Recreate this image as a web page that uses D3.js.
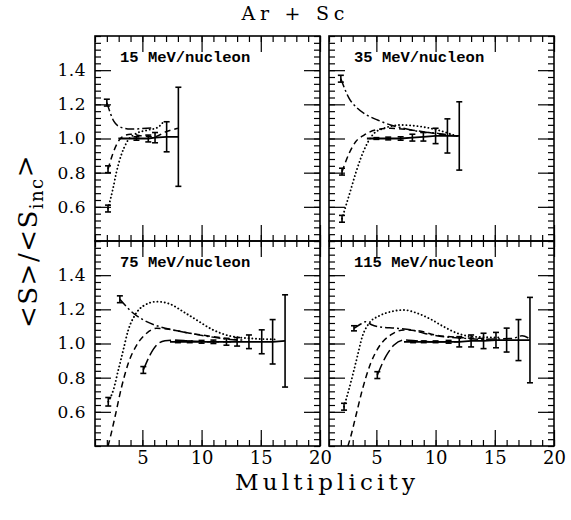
<!DOCTYPE html>
<html><head><meta charset="utf-8">
<script src="https://cdn.jsdelivr.net/npm/d3@7"></script>
<style>body{margin:0;background:#fff} svg{display:block}</style>
</head><body>
<svg id="c" width="571" height="520"></svg>
<script>
// ---------- data ----------
const panelLabels = ["15 MeV/nucleon", "35 MeV/nucleon", "75 MeV/nucleon", "115 MeV/nucleon"];
const xTickLabels = [5, 10, 15, 20];
const yTickLabels = [0.6, 0.8, 1.0, 1.2, 1.4];
const titleText = "Ar + Sc";
const xTitle = "Multiplicity";

// [multiplicity, ratio, (optional) error]
const data15 = [[2.97,1.0],[4.5,1.0,0.01],[5.5,1.0,0.02],[6.07,1.005,0.03],[7.05,1.01,0.088],[8.04,1.01,0.29]];
const dashDot15 = [[2.0,1.21,0.02],[2.6,1.10],[3.2,1.065],[4.0,1.055],[5.0,1.058],[6.0,1.062]];
const dashed15 = [[2.1,0.82,0.02],[2.5,0.91],[2.9,0.975],[3.3,1.01],[4.0,1.025],[5.0,1.015],[6.0,1.01],[7.0,1.04],[8.0,1.06]];
const dotted15 = [[2.1,0.59,0.02],[2.5,0.70],[2.8,0.80],[3.2,0.90],[3.7,0.98],[4.5,1.03],[5.5,1.05],[6.3,1.065],[6.8,1.10]];

const data35 = [[4.2,1.0],[5.0,1.0,0.005],[6.0,1.0,0.008],[7.05,1.0,0.01],[8.04,1.005,0.02],[8.97,1.01,0.025],[10.0,1.015,0.045],[11.0,1.015,0.10],[12.0,1.015,0.20]];
const dashDot35 = [[2.0,1.35,0.02],[2.7,1.235],[3.4,1.177],[4.2,1.137],[5.1,1.108],[6.2,1.079],[7.3,1.06],[8.7,1.04],[10.2,1.03],[11.8,1.014]];
const dashed35 = [[2.1,0.806,0.02],[2.7,0.913],[3.25,0.981],[3.96,1.02],[4.94,1.05],[6.2,1.06],[7.9,1.05],[9.9,1.03],[11.8,1.014]];
const dotted35 = [[2.1,0.53,0.02],[2.4,0.60],[2.83,0.698],[3.25,0.796],[3.68,0.884],[4.23,0.972],[4.8,1.03],[5.65,1.06],[7.05,1.079],[8.74,1.07],[10.15,1.05],[11.8,1.014]];

const data75 = [[7.33,1.01],[8.0,1.01,0.005],[9.0,1.01,0.005],[10.0,1.01,0.008],[11.0,1.01,0.01],[12.1,1.01,0.02],[13.0,1.01,0.025],[14.0,1.01,0.04],[15.08,1.01,0.07],[16.0,1.01,0.13],[17.05,1.015,0.27]];
const dashDot75 = [[3.1,1.259,0.02],[4.24,1.177],[5.36,1.128],[6.49,1.098],[7.61,1.079],[9.02,1.06],[10.7,1.04],[12.4,1.024],[13.5,1.02]];
const dotted75 = [[2.12,0.659,0.025],[2.55,0.728],[2.97,0.845],[3.39,0.962],[3.81,1.079],[4.38,1.167],[5.08,1.22],[6.21,1.245],[7.33,1.231],[8.46,1.186],[9.59,1.137],[10.99,1.079],[12.4,1.044],[14.1,1.03],[16.35,1.024]];
const dashed75 = [[2.1,0.40],[2.27,0.445],[2.69,0.571],[3.25,0.747],[3.81,0.884],[4.52,0.991],[5.36,1.06],[6.21,1.089],[7.5,1.08],[9.0,1.06],[11.0,1.04],[13.0,1.02]];
const longDash75 = [[5.08,0.845,0.02],[5.65,0.933],[6.21,0.991],[6.91,1.016],[7.6,1.02],[9.0,1.015],[11.0,1.01],[12.5,1.01]];

const data115 = [[7.33,1.01],[8.1,1.01,0.005],[9.0,1.01,0.005],[10.0,1.01,0.005],[11.1,1.01,0.008],[12.0,1.01,0.03],[13.0,1.015,0.035],[14.05,1.015,0.045],[15.1,1.02,0.045],[16.0,1.02,0.07],[17.0,1.02,0.12],[17.97,1.02,0.25]];
const dashDot115 = [[3.11,1.089,0.015],[3.68,1.114],[4.1,1.128],[4.6,1.11],[5.5,1.095],[6.5,1.09],[7.9,1.08],[9.02,1.06],[10.7,1.04],[12.5,1.03],[14.0,1.025],[16.5,1.03],[17.3,1.045],[17.9,1.03]];
const dotted115 = [[2.27,0.63,0.02],[2.97,0.806],[3.39,0.923],[3.81,1.04],[4.38,1.118],[5.22,1.161],[6.21,1.186],[7.33,1.196],[8.46,1.177],[9.59,1.142],[10.7,1.098],[11.84,1.06],[13.2,1.04],[14.6,1.036],[15.5,1.035]];
const dashed115 = [[2.6,0.40],[2.83,0.454],[3.25,0.571],[3.81,0.728],[4.52,0.884],[5.22,0.981],[6.21,1.05],[7.33,1.079],[8.46,1.075],[10.0,1.05],[12.0,1.035],[14.0,1.03]];
const longDash115 = [[5.08,0.815,0.02],[5.79,0.923],[6.49,0.991],[7.33,1.02],[8.5,1.015],[10.0,1.01],[12.0,1.01]];

// ---------- layout / style ----------
const W = 225, H = 205;
const panelOrigins = [[95,36],[329,36],[95,241],[329,241]];
const dashStyles = {dashDot: "9,3,2,3", dashed: "6,4", longDash: "12,4", dotted: "0.1,3.6"};
const panels = [
  {label: panelLabels[0], data: data15, curves: {dashDot: dashDot15, dashed: dashed15, dotted: dotted15}},
  {label: panelLabels[1], data: data35, curves: {dashDot: dashDot35, dashed: dashed35, dotted: dotted35}},
  {label: panelLabels[2], data: data75, curves: {dashDot: dashDot75, dashed: dashed75, longDash: longDash75, dotted: dotted75}},
  {label: panelLabels[3], data: data115, curves: {dashDot: dashDot115, dashed: dashed115, longDash: longDash115, dotted: dotted115}}
];

const svg = d3.select("#c");
const x = d3.scaleLinear().domain([1, 20]).range([0, W]);
const y = d3.scaleLinear().domain([0.4, 1.6]).range([H, 0]);
const xMinor = d3.range(1, 21);
const yMinor = d3.range(0, 31).map(i => 0.4 + i * 0.04);
const serif = "'DejaVu Serif', serif";

function tickAxis(g, gen, values, size) {
  g.call(gen.tickValues(values).tickSize(-size).tickFormat(""));
  g.select(".domain").remove();
  g.selectAll("line").attr("stroke", "#000").attr("stroke-width", 1.2);
}

const line = d3.line().x(d => x(d[0])).y(d => y(d[1])).curve(d3.curveMonotoneX);

panels.forEach((p, i) => {
  const [ox, oy] = panelOrigins[i];
  const g = svg.append("g").attr("transform", `translate(${ox},${oy})`);
  const cid = "clip" + i;
  g.append("clipPath").attr("id", cid).append("rect").attr("width", W).attr("height", H);

  // ticks on all four sides, pointing inward
  [[d3.axisBottom(x), `translate(0,${H})`, xMinor, 6], [d3.axisBottom(x), `translate(0,${H})`, xTickLabels, 16],
   [d3.axisTop(x), null, xMinor, 6], [d3.axisTop(x), null, xTickLabels, 16],
   [d3.axisLeft(y), null, yMinor, 6], [d3.axisLeft(y), null, yTickLabels, 16],
   [d3.axisRight(y), `translate(${W},0)`, yMinor, 6], [d3.axisRight(y), `translate(${W},0)`, yTickLabels, 16]
  ].forEach(([gen, tr, vals, sz]) => {
    const a = g.append("g");
    if (tr) a.attr("transform", tr);
    tickAxis(a, gen, vals, sz);
  });

  // tick labels
  if (i % 2 === 0) {
    const a = g.append("g").call(d3.axisLeft(y).tickValues(yTickLabels).tickSize(0).tickPadding(9).tickFormat(d3.format(".1f")));
    a.select(".domain").remove();
    a.selectAll("text").attr("font-family", serif).attr("font-size", 17).attr("fill", "#000").attr("letter-spacing", 0.5);
  }
  if (i >= 2) {
    const a = g.append("g").attr("transform", `translate(0,${H})`)
      .call(d3.axisBottom(x).tickValues(xTickLabels).tickSize(0).tickPadding(5).tickFormat(d3.format("d")));
    a.select(".domain").remove();
    a.selectAll("text").attr("font-family", serif).attr("font-size", 18).attr("fill", "#000");
  }

  const plot = g.append("g").attr("clip-path", `url(#${cid})`);
  // theory / fragment curves
  Object.entries(p.curves).forEach(([key, pts]) => {
    plot.append("path").datum(pts).attr("d", line)
      .attr("fill", "none").attr("stroke", "#000")
      .attr("stroke-width", key === "dotted" ? 1.9 : 1.5)
      .attr("stroke-linecap", key === "dotted" ? "round" : "butt")
      .attr("stroke-dasharray", dashStyles[key]);
  });
  // solid reference line
  plot.append("path").datum(p.data).attr("d", d3.line().x(d => x(d[0])).y(d => y(d[1])))
    .attr("fill", "none").attr("stroke", "#000").attr("stroke-width", 1.8);

  // error bars
  const bars = [];
  p.data.forEach(d => { if (d[2]) bars.push(d); });
  Object.values(p.curves).forEach(pts => { if (pts[0][2]) bars.push(pts[0]); });
  const eb = plot.selectAll("g.eb").data(bars).join("g").attr("class", "eb");
  eb.append("line").attr("x1", d => x(d[0])).attr("x2", d => x(d[0]))
    .attr("y1", d => y(d[1] - d[2])).attr("y2", d => y(d[1] + d[2]))
    .attr("stroke", "#000").attr("stroke-width", 1.6);
  [-1, 1].forEach(s => {
    eb.append("line").attr("x1", d => x(d[0]) - 3).attr("x2", d => x(d[0]) + 3)
      .attr("y1", d => y(d[1] + s * d[2])).attr("y2", d => y(d[1] + s * d[2]))
      .attr("stroke", "#000").attr("stroke-width", 1.6);
  });

  // border
  g.append("rect").attr("width", W).attr("height", H).attr("fill", "none")
    .attr("stroke", "#000").attr("stroke-width", 1.6);

  // panel label
  g.append("text").attr("x", 25).attr("y", 25.5)
    .attr("font-family", "'Liberation Mono', monospace").attr("font-weight", "bold")
    .attr("font-size", 15.5).attr("fill", "#000")
    .attr("textLength", 9.3 * p.label.length).attr("lengthAdjust", "spacing")
    .text(p.label);
});

// titles
svg.append("text").attr("x", 293).attr("y", 20).attr("text-anchor", "middle")
  .attr("font-family", serif).attr("font-size", 19).attr("fill", "#000")
  .attr("textLength", 103).attr("lengthAdjust", "spacing").text(titleText);

svg.append("text").attr("x", 325).attr("y", 490).attr("text-anchor", "middle")
  .attr("font-family", serif).attr("font-size", 23).attr("fill", "#000")
  .attr("textLength", 180).attr("lengthAdjust", "spacing").text(xTitle);

const yt = svg.append("text").attr("transform", "translate(37,241) rotate(-90)")
  .attr("text-anchor", "middle").attr("font-family", serif).attr("font-size", 26)
  .attr("fill", "#000").attr("letter-spacing", 1.5);
yt.append("tspan").text("<S>/<S");
yt.append("tspan").attr("font-size", 18).attr("dy", "0.35em").text("inc");
yt.append("tspan").attr("dy", "-0.35em").text(">");
</script>
</body></html>
